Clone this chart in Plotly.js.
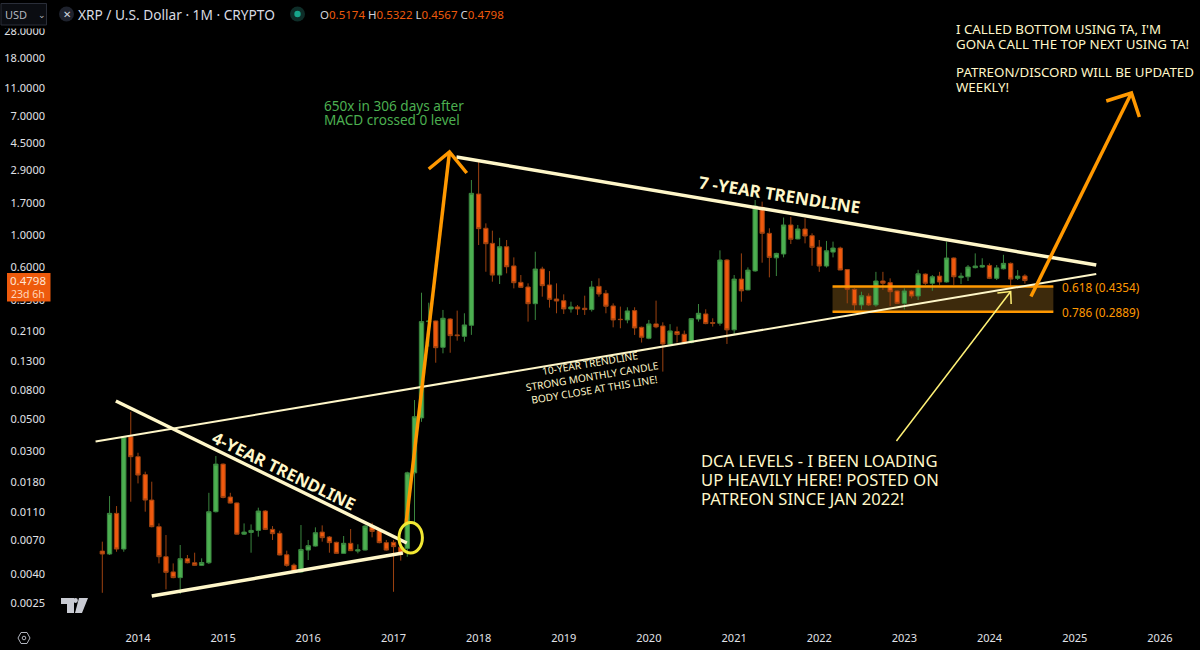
<!DOCTYPE html>
<html>
<head>
<meta charset="utf-8">
<script src="https://cdn.plot.ly/plotly-3.0.1.min.js"></script>
<style>html,body{margin:0;padding:0;background:#000;overflow:hidden}#chart{width:1200px;height:650px}</style>
</head>
<body>
<div id="chart"></div>
<script>
// Monthly candles Aug 2013 - Jun 2024
const open2013 = [.00584,.00557,.0108,.00604,.0377];
const high2013 = [.00681,.01432,.01217,.0380,.0566];
const low2013  = [.00296,.00548,.00578,.00578,.01306];
const close2013= [.00557,.0108,.00604,.0377,.0272];

const open2014 = [.0272,.0203,.01342,.00869,.00533,.00416,.00379,.00516,.00483,.00463,.00483,.0111];
const high2014 = [.0290,.0213,.0181,.00917,.00759,.00478,.00645,.00548,.00569,.00519,.0151,.0275];
const low2014  = [.0176,.0111,.00860,.00478,.00313,.00375,.00290,.00478,.00460,.00460,.00473,.01095];
const close2014= [.02016,.01342,.00869,.00533,.00413,.00379,.00516,.00483,.00463,.00485,.0111,.0241];

const open2015 = [.0241,.0141,.0128,.00770,.00792,.00818,.01122,.00832,.0078,.0055,.00465,.00415];
const high2015 = [.0244,.0151,.0129,.00917,.00902,.01185,.0114,.00878,.00814,.00588,.00478,.00893];
const low2015  = [.0138,.0127,.00765,.00759,.00569,.00739,.00823,.00700,.00545,.00453,.00413,.00411];
const close2015= [.01400,.01277,.00770,.00796,.00818,.01122,.00832,.00776,.00548,.00463,.00415,.00600];

const open2016 = [.00594,.00634,.00796,.00735,.00674,.00563,.00663,.00584,.00594,.00878,.00814,.00670];
const high2016 = [.00700,.0086,.00888,.00747,.00681,.00747,.00837,.00652,.00893,.00927,.00823,.00700];
const low2016  = [.00505,.00628,.00681,.00569,.00560,.00560,.00585,.00563,.00590,.00731,.00663,.00588];
const close2016= [.00638,.00788,.00727,.00670,.00563,.00663,.00588,.00597,.00878,.00805,.00670,.00594];

const open2017 = [.00674,.00622,.00610,.0209,.0512,.2458,.2485,.1617,.2565,.1978,.1935,.2315];
const high2017 = [.00700,.00628,.0213,.0685,.3935,.3345,.2500,.2973,.2600,.2940,.2815,2.47];
const low2017  = [.00301,.00500,.00533,.00927,.0480,.1635,.1258,.1466,.1480,.1802,.1773,.198];
const close2017= [.00628,.00554,.0209,.0522,.2458,.2480,.1607,.2595,.1956,.1956,.2328,1.988];

const open2018 = [1.966,1.125,.880,.5246,.833,.609,.4660,.4320,.3291,.579,.4465,.3552];
const high2018 = [3.33,1.219,1.082,.963,.929,.700,.525,.4585,.768,.601,.560,.4585];
const low2018  = [.856,.554,.4710,.4535,.5397,.4225,.4270,.2458,.2526,.3689,.3088,.2815];
const close2018= [1.118,.875,.5246,.833,.601,.4635,.4295,.3291,.579,.4415,.3532,.3437];

const open2019 = [.3456,.3022,.3122,.3056,.2990,.4365,.3895,.3173,.2553,.2526,.2940,.2240];
const high2019 = [.3832,.3400,.3220,.3750,.4770,.4975,.4113,.3309,.3139,.3105,.3105,.2266];
const low2019  = [.2785,.2845,.2740,.2740,.2895,.3689,.2815,.2240,.2205,.2392,.1978,.1747];
const close2019= [.3022,.3122,.3022,.2990,.4318,.3853,.3156,.2526,.2540,.2925,.2216,.1905];

const open2020 = [.1873,.2367,.2290,.1698,.2088,.2000,.1745,.2565,.2785,.2420,.2392,.671];
const high2020 = [.2526,.3459,.2430,.2358,.2266,.2124,.2595,.3275,.3005,.2595,.785,.680];
const low2020  = [.1842,.2205,.1088,.1680,.1747,.1698,.1726,.2458,.2355,.2266,.2300,.1708];
const close2020= [.2367,.2254,.1707,.2112,.1990,.1726,.2580,.2815,.2380,.2392,.671,.2150];

const open2021 = [.2150,.4915,.4120,.5615,1.583,1.036,.695,.740,1.187,.945,1.112,.997];
const high2021 = [.525,.747,.595,1.783,1.736,1.125,.755,1.340,1.358,1.187,1.322,1.036];
const low2021  = [.1980,.3400,.4100,.5540,.6420,.5055,.5165,.700,.870,.940,.880,.611];
const close2021= [.4915,.4060,.569,1.618,1.036,.700,.747,1.187,.940,1.112,.992,.824];

const open2022 = [.828,.608,.763,.815,.574,.4165,.3225,.3730,.3225,.4765,.4640,.4050];
const high2022 = [.929,.915,.905,.833,.578,.4230,.4000,.3895,.553,.553,.4975,.4080];
const low2022  = [.553,.593,.700,.569,.3310,.2965,.3000,.3170,.3135,.4120,.3170,.3290];
const close2022= [.608,.780,.815,.570,.4165,.3225,.3750,.3225,.4765,.4590,.4000,.3310];

const open2023 = [.3310,.4050,.3730,.533,.4590,.516,.4690,.693,.5030,.5105,.592,.598];
const high2023 = [.4230,.4120,.572,.539,.525,.553,.905,.700,.545,.618,.747,.690];
const low2023  = [.3000,.3590,.3494,.4470,.4060,.4470,.4640,.4470,.4530,.4765,.585,.590];
const close2023= [.4050,.3730,.536,.4590,.5105,.4690,.693,.5105,.5160,.598,.608,.614];

const open2024 = [.614,.4975,.581,.635,.4975,.5174];
const high2024 = [.635,.618,.730,.645,.569,.5322];
const low2024  = [.4915,.484,.5750,.4400,.484,.4567];
const close2024= [.4975,.590,.635,.4915,.516,.4798];

// Month dates of the candles
const years = [2014,2015,2016,2017,2018,2019,2020,2021,2022,2023];
const mm = ['01','02','03','04','05','06','07','08','09','10','11','12'];
let months = ['2013-08-01','2013-09-01','2013-10-01','2013-11-01','2013-12-01'];
years.forEach(y => mm.forEach(m => months.push(y + '-' + m + '-01')));
mm.slice(0,6).forEach(m => months.push('2024-' + m + '-01'));

const opens  = [].concat(open2013,open2014,open2015,open2016,open2017,open2018,open2019,open2020,open2021,open2022,open2023,open2024);
const highs  = [].concat(high2013,high2014,high2015,high2016,high2017,high2018,high2019,high2020,high2021,high2022,high2023,high2024);
const lows   = [].concat(low2013,low2014,low2015,low2016,low2017,low2018,low2019,low2020,low2021,low2022,low2023,low2024);
const closes = [].concat(close2013,close2014,close2015,close2016,close2017,close2018,close2019,close2020,close2021,close2022,close2023,close2024);

// Trendlines, levels, arrows (date / price)
const line7yX  = ['2017-09-28','2025-04-03'], line7yY  = [3.594,.618];
const line10yX = ['2013-07-03','2025-04-03'], line10yY = [.03484,.534];
const line4yX  = ['2013-09-28','2017-02-27'], line4yY  = [.0674,.00667];
const lineLowX = ['2014-03-01','2017-02-10'], lineLowY = [.00281,.00566];
const levelX   = ['2022-02-27','2024-10-01'];
const level618 = .4354, level786 = .2889;
const arrowAX  = ['2017-02-23','2017-08-29'], arrowAY = [.00893,3.90];
const headAX   = ['2017-06-01','2017-08-29','2017-11-11'], headAY = [2.955,3.90,2.769];
const arrowBX  = ['2024-06-27','2025-09-01'], arrowBY = [.370,10.2];
const headBX   = ['2025-05-16','2025-09-01','2025-10-05'], headBY = [8.95,10.2,6.90];
const arrowCX  = ['2022-11-28','2024-04-01'], arrowCY = [.0351,.4015];
const headCX   = ['2024-02-04','2024-04-01','2024-04-03'], headCY = [.392,.4015,.3275];

// Axis ticks
const yTickVals = [28,18,11,7,4.5,2.9,1.7,1,.6,.35,.21,.13,.08,.05,.03,.018,.011,.007,.004,.0025];
const yTickText = ['28.0000','18.0000','11.0000','7.0000','4.5000','2.9000','1.7000','1.0000','0.6000','0.3500','0.2100','0.1300','0.0800','0.0500','0.0300','0.0180','0.0110','0.0070','0.0040','0.0025'];
const xTickYears = ['2014','2015','2016','2017','2018','2019','2020','2021','2022','2023','2024','2025','2026'];
const xTickVals = xTickYears.map(y => y + '-01-01');

const W = 1200, H = 650, L = 48, R = 1200, T = 26, B = 620;
const px = x => (x - L) / (R - L);
const py = y => 1 - (y - T) / (B - T);

const FONT = '"Noto Sans", "Open Sans", sans-serif';
const CREAM = '#FFF7C9', ORANGE = '#FF9800', YELLOW = '#FFF176';

function ln(x, y, color, width) {
  return {type:'scatter', mode:'lines', x, y, hoverinfo:'skip', showlegend:false,
    line:{color, width, shape:'linear'}};
}

const traces = [
  {type:'candlestick', x:months, open:opens, high:highs, low:lows, close:closes,
    hoverinfo:'skip', showlegend:false, whiskerwidth:0,
    increasing:{line:{color:'#3a863f', width:1}, fillcolor:'#4CAF50'},
    decreasing:{line:{color:'#9c4210', width:1}, fillcolor:'#F0590E'}},
  ln(levelX,[level618,level618],ORANGE,2.5),
  ln(levelX,[level786,level786],ORANGE,2.5),
  ln(line10yX,line10yY,CREAM,2),
  ln(line7yX,line7yY,CREAM,3.5),
  ln(line4yX,line4yY,CREAM,3.5),
  ln(lineLowX,lineLowY,CREAM,3.5),
  ln(arrowAX,arrowAY,ORANGE,3.5),
  ln(headAX,headAY,ORANGE,3.5),
  ln(arrowBX,arrowBY,ORANGE,3.5),
  ln(headBX,headBY,ORANGE,3.5),
  ln(arrowCX,arrowCY,YELLOW,1.5),
  ln(headCX,headCY,YELLOW,1.5)
];

function note(x, y, text, size, color, extra) {
  return Object.assign({xref:'paper', yref:'paper', x:px(x), y:py(y), text,
    showarrow:false, xanchor:'left', yanchor:'middle', align:'left',
    borderpad:0, borderwidth:0,
    font:{family:FONT, size, color}}, extra || {});
}
function pathAt(points, fill) {
  const d = points.map((p,i) => (i ? 'L' : 'M') + px(p[0]) + ',' + py(p[1])).join(' ') + ' Z';
  return {type:'path', xref:'paper', yref:'paper', path:d, fillcolor:fill,
    line:{color:fill === 'rgba(0,0,0,0)' ? '#B2B5BE' : fill, width:fill === 'rgba(0,0,0,0)' ? 1 : 0}, layer:'above'};
}
function box(x0, y0, x1, y1, fill, line) {
  return {type:'rect', xref:'paper', yref:'paper', x0:px(x0), x1:px(x1), y0:py(y0), y1:py(y1),
    fillcolor:fill, line:line || {width:0}, layer:'above'};
}
function oval(cx, cy, rx, ry, fill, line) {
  return {type:'circle', xref:'paper', yref:'paper', x0:px(cx-rx), x1:px(cx+rx), y0:py(cy+ry), y1:py(cy-ry),
    fillcolor:fill, line:line || {width:0}, layer:'above'};
}

const shapes = [
  // DCA zone
  {type:'rect', xref:'x', yref:'y', x0:levelX[0], x1:levelX[1], y0:level786, y1:level618,
    fillcolor:'#3d2a0c', line:{width:0}, layer:'below'},
  // Circle on breakout
  oval(410.7,537.7,11.7,15.3,'rgba(0,0,0,0)',{color:'#F2E833',width:3}),
  // Header mask + USD box
  box(0,0,1200,28.5,'#000000'),
  {type:'rect', xref:'paper', yref:'paper', x0:px(1), x1:px(46.5), y0:py(3.5), y1:py(25),
    fillcolor:'#0b0d12', line:{color:'#2A2E39',width:1}, layer:'above'},
  oval(66.5,14,7.5,7.5,'#1e222d'),
  oval(297.5,14,7.5,7.5,'#0e2d28'),
  oval(297.5,14,3.2,3.2,'#17a58a'),
  // Price tag
  box(7,273,50.5,301.5,'#EE5A0C'),
  // Logo
  pathAt([[61,598],[74,598],[74,613],[67,613],[67,604],[61,604]],'#C9CBD3'),
  pathAt([[79,598],[88,598],[82,613],[75,613]],'#C9CBD3'),
  oval(75.5,600.5,2.4,2.4,'#C9CBD3'),
  // Settings icon
  pathAt([[18,638],[21,632.5],[27,632.5],[30,638],[27,643.5],[21,643.5]],'rgba(0,0,0,0)'),
  oval(24,638,1.8,1.8,'rgba(0,0,0,0)',{color:'#B2B5BE',width:1})
];

const OHLC = '<span style="color:#D1D4DC">O</span>0.5174 <span style="color:#D1D4DC">H</span>0.5322 <span style="color:#D1D4DC">L</span>0.4567 <span style="color:#D1D4DC">C</span>0.4798';

const annotations = [
  note(5,14,'USD',11,'#B2B5BE'),
  note(38,14,'⌄',9,'#B2B5BE',{xanchor:'left',yanchor:'middle'}),
  note(66.5,14,'✕',10,'#D1D4DC',{xanchor:'center'}),
  note(78,14,'XRP / U.S. Dollar · 1M · CRYPTO',13.7,'#D9DBE2'),
  note(320,14,OHLC,11.5,'#EE5A0C'),
  note(28,280.5,'0.4798',11.5,'#FFE5D5',{xanchor:'center'}),
  note(28,294,'23d 6h',10.5,'#FFD8BE',{xanchor:'center'}),

  note(324,105,'650x in 306 days after',13.6,'#4CAF50'),
  note(324,119,'MACD crossed 0 level',13.6,'#4CAF50'),
  note(779,194,'<b>7 -YEAR TRENDLINE</b>',17,CREAM,{xanchor:'center',textangle:9}),
  note(284,470,'<b>4-YEAR TRENDLINE</b>',16.8,CREAM,{xanchor:'center',textangle:26}),
  note(592,376,'10-YEAR TRENDLINE<br>STRONG MONTHLY CANDLE<br>BODY CLOSE AT THIS LINE!',10.2,CREAM,{xanchor:'center',align:'center',textangle:-9.5}),
  note(701,460,'DCA LEVELS - I BEEN LOADING',16.6,CREAM),
  note(701,479,'UP HEAVILY HERE! POSTED ON',16.6,CREAM),
  note(701,498,'PATREON SINCE JAN 2022!',16.6,CREAM),
  note(956,29,"I CALLED BOTTOM USING TA, I'M",13.3,CREAM),
  note(956,44,'GONA CALL THE TOP NEXT USING TA!',13.3,CREAM),
  note(956,72,'PATREON/DISCORD WILL BE UPDATED',13.3,CREAM),
  note(956,87,'WEEKLY!',13.3,CREAM),
  note(1062,287,'0.618 (0.4354)',11.8,ORANGE),
  note(1062,312.5,'0.786 (0.2889)',11.8,ORANGE)
];

const layout = {
  width:W, height:H, autosize:false,
  paper_bgcolor:'#000000', plot_bgcolor:'#000000',
  margin:{l:L, r:W-R, t:T, b:H-B, pad:0},
  showlegend:false, hovermode:false, dragmode:false,
  font:{family:FONT, color:'#D1D4DC'},
  boxgap:0.05,
  xaxis:{type:'date', range:['2012-12-11','2026-06-22'], rangeslider:{visible:false},
    tickmode:'array', tickvals:xTickVals, ticktext:xTickYears,
    showgrid:false, zeroline:false, showline:false, ticks:'', fixedrange:true,
    ticklabelstandoff:10,
    tickfont:{family:FONT, size:11, color:'#E0E2E8'}},
  yaxis:{type:'log', range:[-2.7212,1.4827],
    tickmode:'array', tickvals:yTickVals, ticktext:yTickText,
    showgrid:false, zeroline:false, showline:false, ticks:'', fixedrange:true,
    ticklabelstandoff:2,
    tickfont:{family:FONT, size:11, color:'#E0E2E8'}},
  shapes, annotations
};

Plotly.newPlot('chart', traces, layout, {displayModeBar:false, staticPlot:true});
</script>
</body>
</html>
